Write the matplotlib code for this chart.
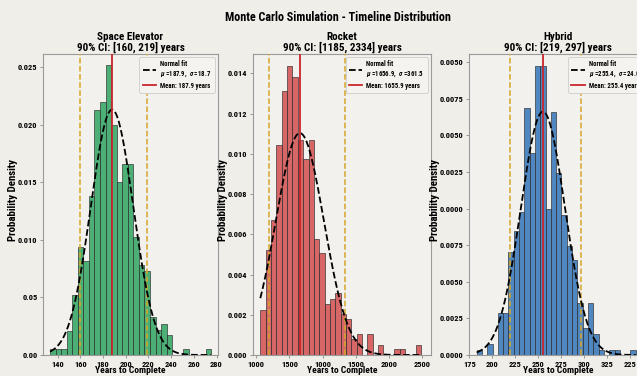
import numpy as np
import matplotlib
matplotlib.use('Agg')
import matplotlib.pyplot as plt
import matplotlib.ticker as mticker
from matplotlib import font_manager

# pick a narrow bold face if one is installed
names = {f.name for f in font_manager.fontManager.ttflist}
family = [f for f in ['Roboto Condensed', 'Liberation Sans Narrow', 'DejaVu Sans'] if f in names]
plt.rcParams['font.family'] = family + ['DejaVu Sans']
plt.rcParams['font.stretch'] = 'condensed'
plt.rcParams['font.weight'] = 'bold'
plt.rcParams['mathtext.fontset'] = 'custom'
plt.rcParams['mathtext.it'] = family[0] + ':italic'
plt.rcParams['mathtext.rm'] = family[0]

# --- Space Elevator ---
se_bin_start = 133.2
se_bin_width = 4.9
se_density = [0.0005, 0.0005, 0.0005, 0.0021, 0.0052, 0.0094, 0.0082, 0.0138,
              0.0213, 0.0220, 0.0252, 0.0200, 0.0150, 0.0166, 0.0166, 0.0103,
              0.0078, 0.0073, 0.0033, 0.0022, 0.0027, 0.0017, 0.0, 0.0,
              0.0005, 0.0, 0.0, 0.0, 0.0005]
se_mu, se_sigma, se_mean = 187.9, 18.7, 187.9
se_ci = [160, 219]
se_xticks = [140, 160, 180, 200, 220, 240, 260, 280]
se_xlabels = ['140', '160', '180', '200', '220', '240', '260', '280']
se_yticks = [0.0, 0.005, 0.010, 0.015, 0.020, 0.025]
se_ylabels = ['0.00', '0.05', '0.010', '0.015', '0.020', '0.025']

# --- Rocket ---
rk_bin_start = 1060.2
rk_bin_width = 80.8
rk_density = [0.000226, 0.000524, 0.000673, 0.001045, 0.001315, 0.001438,
              0.001381, 0.001070, 0.000974, 0.001070, 0.000576, 0.000506,
              0.000252, 0.000279, 0.000307, 0.000202, 0.000179, 0.000080,
              0.000103, 0.0, 0.000103, 0.0, 0.000050, 0.0, 0.0,
              0.000028, 0.000028, 0.0, 0.0, 0.000050]
rk_mu, rk_sigma, rk_mean = 1656.9, 361.5, 1655.9
rk_ci = [1185, 2334]
rk_xticks = [1000, 1500, 2000, 2500, 3000, 3500]
rk_xlabels = ['1000', '1500', '1000', '1500', '2000', '2500']
rk_yticks = [0.0, 0.0002, 0.0004, 0.0006, 0.0008, 0.0010, 0.0012, 0.0014]
rk_ylabels = ['0.000', '0.002', '0.004', '0.006', '0.008', '0.010', '0.012', '0.014']

# --- Hybrid ---
hy_bin_start = 183.0
hy_bin_width = 5.79
hy_density = [0.00034, 0.0, 0.00072, 0.0, 0.00286, 0.00286, 0.00703, 0.00845,
              0.00980, 0.01689, 0.01378, 0.01974, 0.01974, 0.00995, 0.01662,
              0.01241, 0.00956, 0.00745, 0.00649, 0.00357, 0.00182, 0.00357,
              0.00141, 0.00034, 0.0, 0.00034, 0.00034, 0.0, 0.0, 0.00034]
hy_mu, hy_sigma, hy_mean = 255.4, 24.0, 255.4
hy_ci = [219, 297]
hy_xticks = [175, 200, 225, 250, 275, 300, 325, 350]
hy_xlabels = ['175', '200', '225', '250', '275', '300', '325', '225']
hy_yticks = [0.0, 0.0025, 0.005, 0.0075, 0.010, 0.0125, 0.015, 0.0175, 0.020]
hy_ylabels = ['0.0000', '0.0025', '0.0050', '0.0075', '0.0000', '0.0025',
              '0.0050', '0.0075', '0.0050']

panels = [
    dict(name='Space Elevator', start=se_bin_start, width=se_bin_width, dens=se_density,
         mu=se_mu, sigma=se_sigma, mean=se_mean, ci=se_ci, mu_txt='187.9', sd_txt='18.7',
         xt=se_xticks, xl=se_xlabels, yt=se_yticks, yl=se_ylabels,
         xlim=(127, 281.3), ylim=(0, 0.02617), color='#3aa868', ylab_x=-0.14,
         rect=[0.0675, 0.0559, 0.2747, 0.8005]),
    dict(name='Rocket', start=rk_bin_start, width=rk_bin_width, dens=rk_density,
         mu=rk_mu, sigma=rk_sigma, mean=rk_mean, ci=rk_ci, mu_txt='1656.9', sd_txt='361.5',
         xt=rk_xticks, xl=rk_xlabels, yt=rk_yticks, yl=rk_ylabels,
         xlim=(950, 3636), ylim=(0, 0.001497), color='#d45757', ylab_x=-0.14,
         rect=[0.3972, 0.0559, 0.2794, 0.8005]),
    dict(name='Hybrid', start=hy_bin_start, width=hy_bin_width, dens=hy_density,
         mu=hy_mu, sigma=hy_sigma, mean=hy_mean, ci=hy_ci, mu_txt='255.4', sd_txt='24.0',
         xt=hy_xticks, xl=hy_xlabels, yt=hy_yticks, yl=hy_ylabels,
         xlim=(174.7, 369), ylim=(0, 0.02056), color='#3f7cbc', ylab_x=-0.162,
         rect=[0.7363, 0.0559, 0.2794, 0.8005]),
]

bg = '#efeee9'
fig = plt.figure(figsize=(6.37, 3.76), dpi=100, facecolor=bg)
fig.suptitle('Monte Carlo Simulation - Timeline Distribution', fontsize=8.7,
             fontweight='bold', x=0.531, y=0.972)

for p in panels:
    ax = fig.add_axes(p['rect'], facecolor='#f2f1ed')
    n = len(p['dens'])
    lefts = p['start'] + p['width'] * np.arange(n)
    ax.bar(lefts, p['dens'], width=p['width'], align='edge', color=p['color'],
           edgecolor='#2b2b2b', linewidth=0.5, alpha=0.9, zorder=2)

    # normal fit over the sample range
    xs = np.linspace(p['start'], p['start'] + p['width'] * n, 300)
    pdf = np.exp(-0.5 * ((xs - p['mu']) / p['sigma']) ** 2) / (p['sigma'] * np.sqrt(2 * np.pi))
    ax.plot(xs, pdf, color='black', linestyle='--', linewidth=1.3, zorder=4,
            label='Normal fit\n$\\mu$ =%s,  $\\sigma$ =%s' % (p['mu_txt'], p['sd_txt']))
    ax.axvline(p['mean'], color='#c8262b', linewidth=1.3, zorder=5,
               label='Mean: %.1f years' % p['mean'])
    for c in p['ci']:
        ax.axvline(c, color='#d4a62a', linestyle='--', linewidth=1.1, zorder=3)

    ax.set_xlim(*p['xlim'])
    ax.set_ylim(*p['ylim'])
    ax.xaxis.set_major_locator(mticker.FixedLocator(p['xt']))
    ax.xaxis.set_major_formatter(mticker.FixedFormatter(p['xl']))
    ax.yaxis.set_major_locator(mticker.FixedLocator(p['yt']))
    ax.yaxis.set_major_formatter(mticker.FixedFormatter(p['yl']))
    ax.tick_params(labelsize=6.0, length=2.5, width=0.6, color='#888888', pad=1.5)

    ax.set_title('%s\n90%% CI: [%d, %d] years' % (p['name'], p['ci'][0], p['ci'][1]),
                 fontsize=8.0, fontweight='bold', pad=2.5, linespacing=0.95)
    ax.set_xlabel('Years to Complete', fontsize=6.8, fontweight='bold')
    ax.xaxis.set_label_coords(0.5, -0.037)
    ax.set_ylabel('Probability Density', fontsize=7.8, fontweight='bold')
    ax.yaxis.set_label_coords(p['ylab_x'], 0.515)
    for s in ax.spines.values():
        s.set_color('#9a9a9a')
        s.set_linewidth(0.8)

    leg = ax.legend(loc='upper right', fontsize=4.9, frameon=True, handlelength=2.0,
                    borderpad=0.45, labelspacing=0.35, handletextpad=0.6,
                    facecolor='#f4f3ef', edgecolor='#cccccc', framealpha=1)
    leg.get_frame().set_linewidth(0.6)

plt.savefig('out.png', dpi=100, facecolor=bg)
